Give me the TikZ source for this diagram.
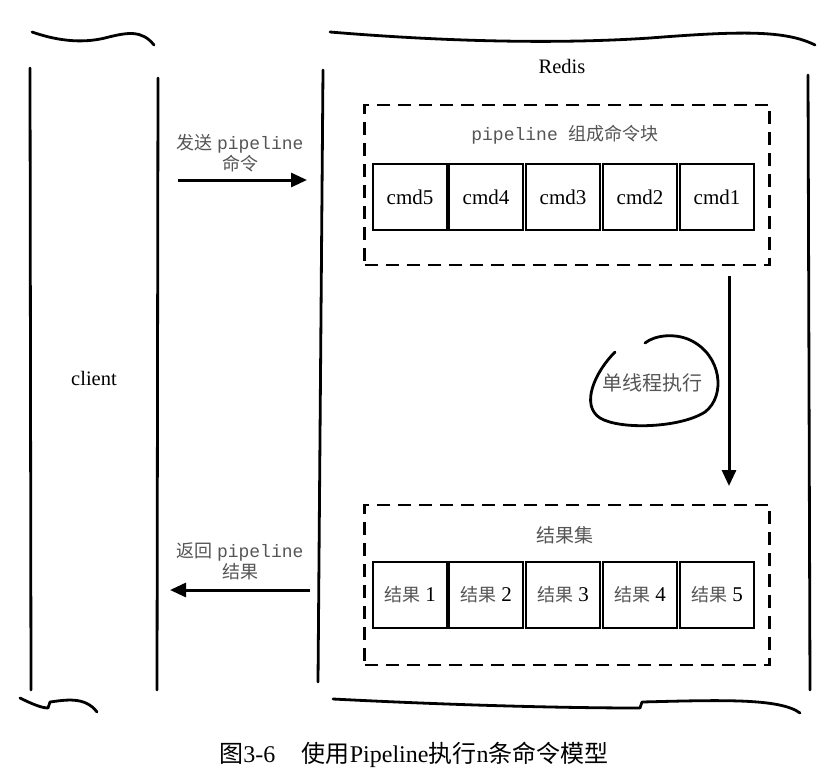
\documentclass[tikz,border=0pt]{standalone}
\usepackage{fontspec}
\setmainfont{Liberation Serif}
\setmonofont{Liberation Mono}
\newfontfamily\cjk{Noto Sans CJK SC}
\usetikzlibrary{arrows.meta}
\definecolor{txtgray}{HTML}{555555}
\tikzset{
  hand/.style={line width=2.8pt, line cap=round, line join=round},
  cell/.style={draw, line width=2.8pt, minimum width=74pt, minimum height=66pt, inner sep=0pt, font=\fontsize{21}{21}\selectfont},
  group/.style={draw, dashed, dash pattern=on 13pt off 8pt, line width=2.8pt, inner sep=0pt},
  lab/.style={font=\fontsize{18}{21}\selectfont, text=txtgray, align=center},
  bigarrow/.style={line width=3pt, -{Triangle[length=16pt,width=14pt]}},
  plain/.style={font=\fontsize{20.5}{21}\selectfont},
}
\newcommand{\reslab}[1]{{\cjk\fontsize{18}{18}\selectfont\color{txtgray}结果} #1}
\begin{document}
\begin{tikzpicture}[x=1pt,y=-1pt]
\useasboundingbox (0,0) rectangle (829,779);
% client column
\draw[hand] (32,32) .. controls (55,40) and (80,44) .. (105,38) .. controls (128,32) and (142,30) .. (154,45);
\draw[hand] (30,68) -- (31,690);
\draw[hand] (158,78) -- (157,690);
\draw[hand] (20,698) .. controls (32,704) and (42,708) .. (48,708) -- (50,702) .. controls (65,700) and (85,696) .. (97,712);
\node[plain] (client) at (94,378) {client};
% redis column
\draw[hand] (330,32) .. controls (450,42) and (560,44) .. (650,38) .. controls (740,31) and (785,30) .. (815,45);
\draw[hand] (323,70) -- (318,682);
\draw[hand] (808,75) -- (810,690);
\draw[hand] (333,699) .. controls (450,705) and (560,708) .. (640,708) -- (642,702) .. controls (720,700) and (780,698) .. (800,713);
\node[plain] (redis) at (562,66) {Redis};
% command block
\node[group, minimum width=405pt, minimum height=160pt] (cmdgrp) at (567,185) {};
\node[lab] (cmdtitle) at (565,135) {\ttfamily pipeline \cjk 组成命令块};
\node[cell] (c5) at (410,197) {cmd5};
\node[cell] (c4) at (486,197) {cmd4};
\node[cell] (c3) at (563,197) {cmd3};
\node[cell] (c2) at (640,197) {cmd2};
\node[cell] (c1) at (717,197) {cmd1};
% result block
\node[group, minimum width=405pt, minimum height=160pt] (resgrp) at (567,585) {};
\node[lab, font=\fontsize{19}{21}\selectfont] (restitle) at (565,535) {\cjk 结果集};
\node[cell] (r1) at (410,595) {\reslab{1}};
\node[cell] (r2) at (486,595) {\reslab{2}};
\node[cell] (r3) at (563,595) {\reslab{3}};
\node[cell] (r4) at (640,595) {\reslab{4}};
\node[cell] (r5) at (717,595) {\reslab{5}};
% execution arrow
\coordinate (downA) at (729,276);
\coordinate (downB) at (729,486);
\draw[bigarrow] (downA) -- (downB);
\node[lab, font=\fontsize{20}{22}\selectfont] (exec) at (652,383) {\cjk 单线程执行};
\draw[hand] (615,352) .. controls (595,372) and (580,405) .. (600,418) .. controls (620,430) and (680,428) .. (705,412) .. controls (726,396) and (722,355) .. (690,340) .. controls (675,333) and (655,335) .. (645,343);
% send / return arrows
\coordinate (sendA) at (178,180);
\coordinate (sendB) at (307,180);
\draw[bigarrow] (sendA) -- (sendB);
\node[lab] (sendlab) at (240,153) {{\cjk 发送} {\ttfamily pipeline}\\{\cjk 命令}};
\coordinate (retA) at (310,590);
\coordinate (retB) at (170,590);
\draw[bigarrow] (retA) -- (retB);
\node[lab] (retlab) at (240,561) {{\cjk 返回} {\ttfamily pipeline}\\{\cjk 结果}};
% caption
\node[font=\fontsize{24}{24}\selectfont] (caption) at (414,755) {{\cjk 图}3-6\hspace{1.1em}{\cjk 使用}Pipeline{\cjk 执行}n{\cjk 条命令模型}};
\end{tikzpicture}
\end{document}
